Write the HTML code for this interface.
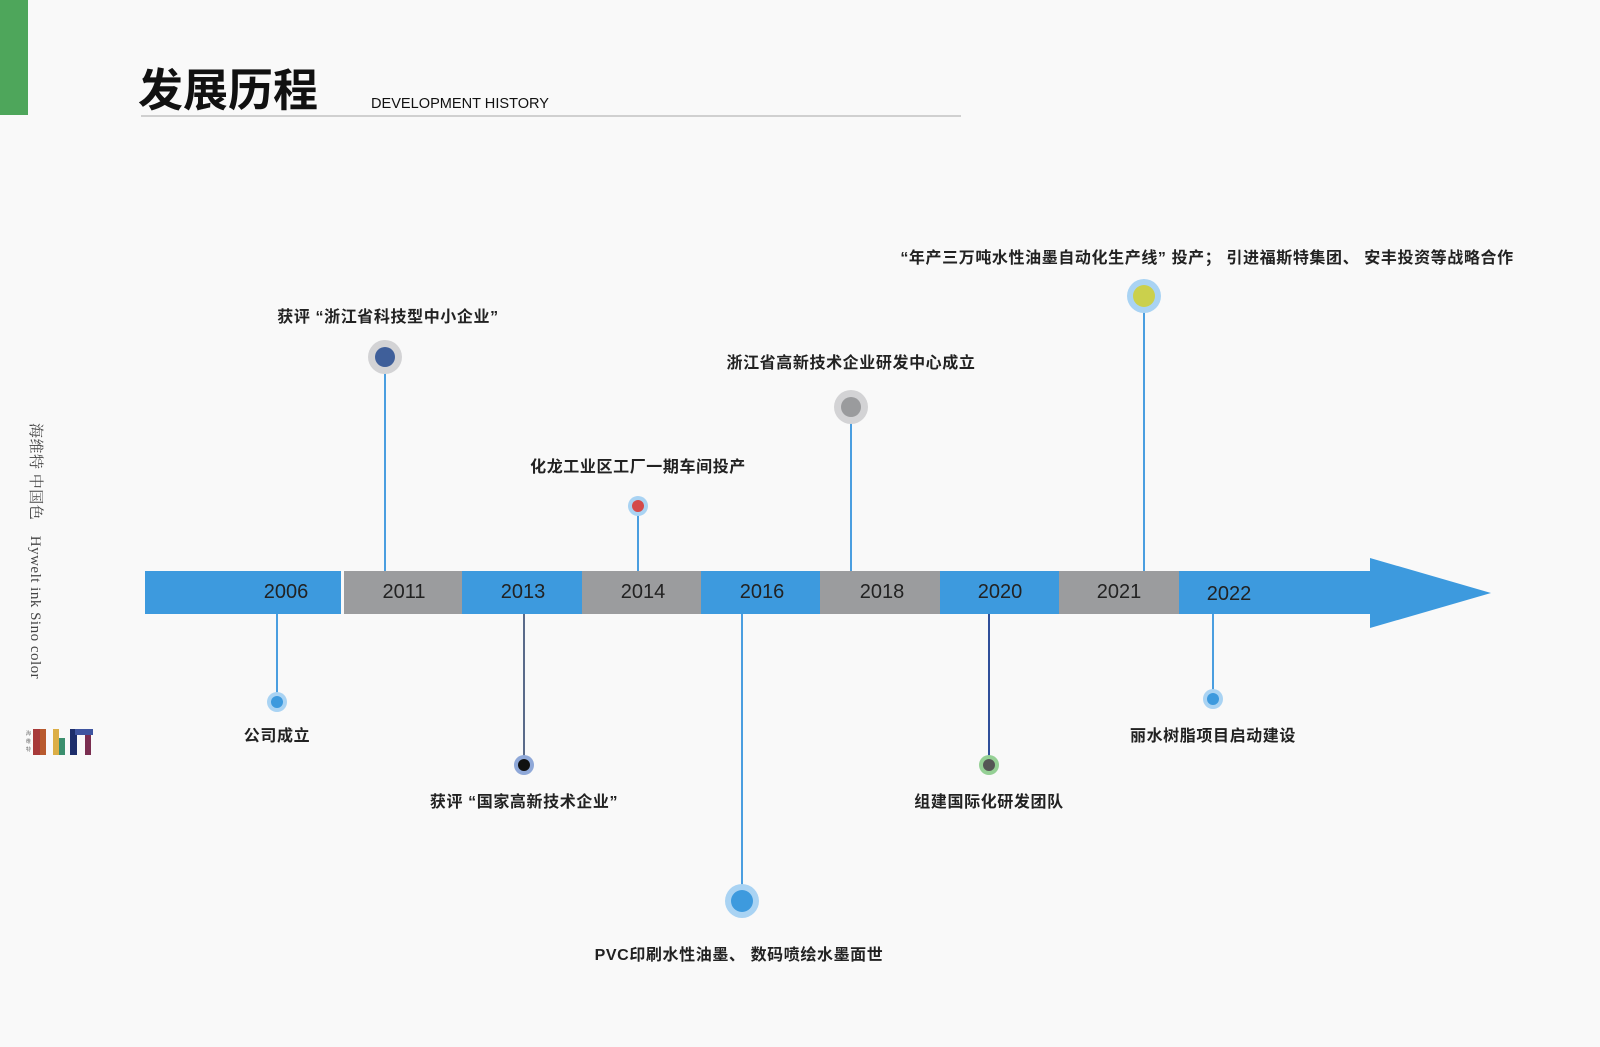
<!DOCTYPE html>
<html><head><meta charset="utf-8"><style>
html,body{margin:0;padding:0;background:#f9f9f9;}
body{width:1600px;height:1047px;overflow:hidden;position:relative;}
svg{position:absolute;left:0;top:0;}
.vt{position:absolute;left:26px;top:423px;writing-mode:vertical-rl;text-orientation:sideways;font-family:"Liberation Serif","Noto Serif CJK SC",serif;font-size:15px;color:#444;white-space:nowrap;letter-spacing:0.5px;}
</style></head><body>
<svg width="1600" height="1047" xmlns="http://www.w3.org/2000/svg" font-family="Liberation Sans, Noto Sans CJK SC, sans-serif">
<rect x="0" y="0" width="28" height="115" fill="#4ea65b"/>
<text x="138" y="106" font-size="45" font-weight="bold" fill="#111" font-family="Noto Sans CJK SC, sans-serif" textLength="180">发展历程</text>
<text x="371" y="108" font-size="15" fill="#111" textLength="178" lengthAdjust="spacingAndGlyphs">DEVELOPMENT HISTORY</text>
<line x1="141" y1="116" x2="961" y2="116" stroke="#d0d0d0" stroke-width="2"/>

<rect x="145" y="571" width="196" height="43" fill="#3d9ade"/>
<rect x="344" y="571" width="118" height="43" fill="#9b9c9e"/>
<rect x="462" y="571" width="120" height="43" fill="#3d9ade"/>
<rect x="582" y="571" width="119" height="43" fill="#9b9c9e"/>
<rect x="701" y="571" width="119" height="43" fill="#3d9ade"/>
<rect x="820" y="571" width="120" height="43" fill="#9b9c9e"/>
<rect x="940" y="571" width="119" height="43" fill="#3d9ade"/>
<rect x="1059" y="571" width="120" height="43" fill="#9b9c9e"/>
<rect x="1179" y="571" width="192" height="43" fill="#3d9ade"/>
<polygon points="1370,558 1491,593 1370,628" fill="#3d9ade"/>
<g font-size="20" fill="#222" text-anchor="middle">
<text x="286" y="598">2006</text><text x="404" y="598">2011</text><text x="523" y="598">2013</text>
<text x="643" y="598">2014</text><text x="762" y="598">2016</text><text x="882" y="598">2018</text>
<text x="1000" y="598">2020</text><text x="1119" y="598">2021</text><text x="1229" y="600">2022</text>
</g>

<g stroke-width="2">
<line x1="385" y1="357" x2="385" y2="571" stroke="#4a9ee0"/>
<line x1="638" y1="506" x2="638" y2="571" stroke="#4a9ee0"/>
<line x1="851" y1="407" x2="851" y2="571" stroke="#4a9ee0"/>
<line x1="1144" y1="296" x2="1144" y2="571" stroke="#4a9ee0"/>
<line x1="277" y1="614" x2="277" y2="702" stroke="#4a9ee0"/>
<line x1="524" y1="614" x2="524" y2="765" stroke="#5a6b8a"/>
<line x1="742" y1="614" x2="742" y2="901" stroke="#4a9ee0"/>
<line x1="989" y1="614" x2="989" y2="765" stroke="#2f4f9a"/>
<line x1="1213" y1="614" x2="1213" y2="699" stroke="#4a9ee0"/>
</g>
<circle cx="385" cy="357" r="17" fill="#d3d3d5"/><circle cx="385" cy="357" r="10" fill="#3f5f9a"/>
<circle cx="638" cy="506" r="10" fill="#a9d3f3"/><circle cx="638" cy="506" r="6" fill="#d44a4a"/>
<circle cx="851" cy="407" r="17" fill="#d3d3d5"/><circle cx="851" cy="407" r="10" fill="#9a9b9d"/>
<circle cx="1144" cy="296" r="17" fill="#a9d3f3"/><circle cx="1144" cy="296" r="11" fill="#cbd04c"/>
<circle cx="277" cy="702" r="10" fill="#a9d3f3"/><circle cx="277" cy="702" r="6" fill="#3d9ade"/>
<circle cx="524" cy="765" r="10" fill="#8fa8d8"/><circle cx="524" cy="765" r="6" fill="#111"/>
<circle cx="742" cy="901" r="17" fill="#a9d3f3"/><circle cx="742" cy="901" r="11" fill="#3d9ade"/>
<circle cx="989" cy="765" r="10" fill="#95d095"/><circle cx="989" cy="765" r="6" fill="#555"/>
<circle cx="1213" cy="699" r="10" fill="#a9d3f3"/><circle cx="1213" cy="699" r="6" fill="#3d9ade"/>

<g font-size="16" font-weight="bold" fill="#222" text-anchor="middle" letter-spacing="0.6" font-family="Liberation Sans, Noto Sans CJK SC, sans-serif">
<text x="388" y="322">获评 “浙江省科技型中小企业” </text>
<text x="638" y="472">化龙工业区工厂一期车间投产</text>
<text x="851" y="368">浙江省高新技术企业研发中心成立</text>
<text x="1207" y="263">“年产三万吨水性油墨自动化生产线” 投产； 引进福斯特集团、 安丰投资等战略合作</text>
<text x="277" y="741">公司成立</text>
<text x="524" y="807">获评 “国家高新技术企业” </text>
<text x="739" y="960">PVC印刷水性油墨、 数码喷绘水墨面世</text>
<text x="989" y="807">组建国际化研发团队</text>
<text x="1213" y="741">丽水树脂项目启动建设</text>
</g>

<text x="26" y="735" font-size="5" fill="#333" font-family="Noto Serif CJK SC, serif">海</text>
<text x="26" y="743" font-size="5" fill="#333" font-family="Noto Serif CJK SC, serif">维</text>
<text x="26" y="751" font-size="5" fill="#333" font-family="Noto Serif CJK SC, serif">特</text>
<rect x="33" y="729" width="7" height="26" fill="#a83a3a"/>
<rect x="40" y="729" width="6" height="26" fill="#b85a2e"/>
<rect x="53" y="729" width="6" height="26" fill="#dcae45"/>
<rect x="59" y="738" width="6" height="17" fill="#3b8f6e"/>
<rect x="70" y="729" width="7" height="26" fill="#1d2e6b"/>
<rect x="75" y="729" width="18" height="6" fill="#3f55a0"/>
<rect x="85" y="735" width="6" height="20" fill="#7a2e50"/>
</svg>
<div class="vt">海维特 中国色　Hywelt ink Sino color</div>
</body></html>
